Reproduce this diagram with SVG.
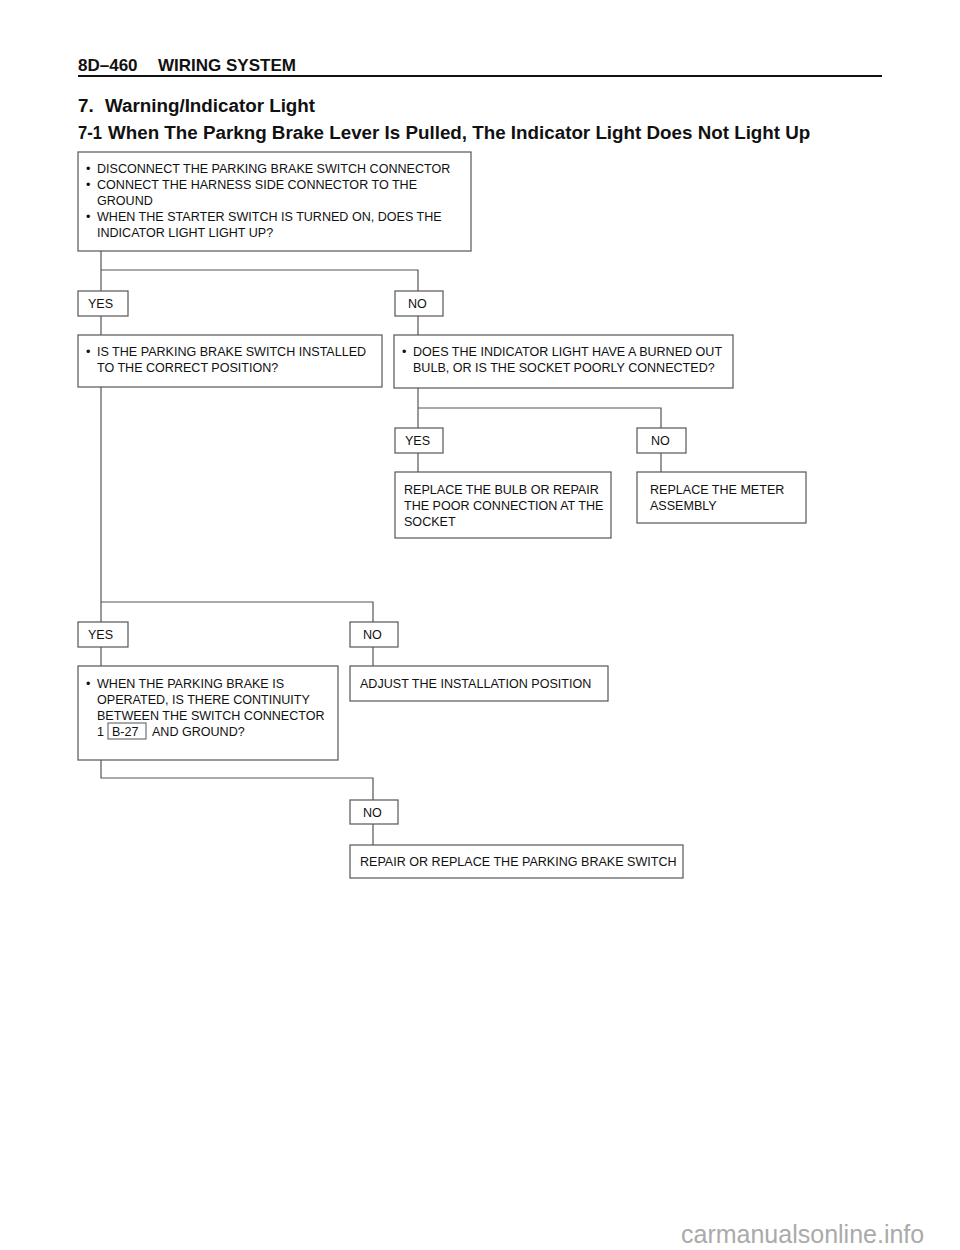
<svg xmlns="http://www.w3.org/2000/svg" width="960" height="1250" viewBox="0 0 960 1250">
<style>
.bg{fill:#fff}
.box{fill:#fff;stroke:#555;stroke-width:1.2}
.conn{fill:none;stroke:#555;stroke-width:1.2}
.t{font-family:"Liberation Sans",Arial,sans-serif;font-size:12.55px;fill:#111}
.h{font-family:"Liberation Sans",Arial,sans-serif;font-weight:bold;fill:#111}
.wm{font-family:"Liberation Sans",Arial,sans-serif;font-size:25px;fill:#aaa}
</style>
<rect class="bg" x="0" y="0" width="960" height="1250"/>
<g id="header">
<text class="h" x="78" y="71" font-size="17">8D–460</text>
<text class="h" x="158" y="71" font-size="17">WIRING SYSTEM</text>
<line x1="78" y1="76" x2="882" y2="76" stroke="#111" stroke-width="2"/>
<text class="h" x="78" y="112" font-size="18.8">7.</text>
<text class="h" x="105" y="112" font-size="18.8">Warning/Indicator Light</text>
<text class="h" x="78" y="139" font-size="18.8" textLength="24" lengthAdjust="spacingAndGlyphs">7-1</text>
<text class="h" x="108" y="139" font-size="18.8">When The Parkng Brake Lever Is Pulled, The Indicator Light Does Not Light Up</text>
</g>
<g id="connectors">
<polyline class="conn" points="101,251 101,291"/>
<polyline class="conn" points="101,270 418,270 418,291"/>
<polyline class="conn" points="101,316 101,335"/>
<polyline class="conn" points="418,316 418,335"/>
<polyline class="conn" points="418,388 418,428"/>
<polyline class="conn" points="418,408 661,408 661,428"/>
<polyline class="conn" points="418,453 418,472"/>
<polyline class="conn" points="661,453 661,472"/>
<polyline class="conn" points="101,387 101,622"/>
<polyline class="conn" points="101,602 373,602 373,622"/>
<polyline class="conn" points="101,647 101,666"/>
<polyline class="conn" points="373,647 373,666"/>
<polyline class="conn" points="101,760 101,778 373,778 373,800"/>
<polyline class="conn" points="373,824 373,845"/>
</g>
<g id="n1">
<rect class="box" x="78" y="152" width="393" height="99"/>
<text class="t" x="86" y="173">•</text><text class="t" x="97" y="173">DISCONNECT THE PARKING BRAKE SWITCH CONNECTOR</text>
<text class="t" x="86" y="189">•</text><text class="t" x="97" y="189">CONNECT THE HARNESS SIDE CONNECTOR TO THE</text>
<text class="t" x="97" y="205">GROUND</text>
<text class="t" x="86" y="221">•</text><text class="t" x="97" y="221">WHEN THE STARTER SWITCH IS TURNED ON, DOES THE</text>
<text class="t" x="97" y="237">INDICATOR LIGHT LIGHT UP?</text>
</g>
<g id="yes1"><rect class="box" x="78" y="291" width="50" height="25"/><text class="t" x="88" y="308">YES</text></g>
<g id="no1"><rect class="box" x="395" y="291" width="48" height="25"/><text class="t" x="408" y="308">NO</text></g>
<g id="n2">
<rect class="box" x="78" y="335" width="304" height="52"/>
<text class="t" x="86" y="356">•</text><text class="t" x="97" y="356">IS THE PARKING BRAKE SWITCH INSTALLED</text>
<text class="t" x="97" y="372">TO THE CORRECT POSITION?</text>
</g>
<g id="n3">
<rect class="box" x="394" y="335" width="339" height="53"/>
<text class="t" x="402" y="356">•</text><text class="t" x="413" y="356">DOES THE INDICATOR LIGHT HAVE A BURNED OUT</text>
<text class="t" x="413" y="372">BULB, OR IS THE SOCKET POORLY CONNECTED?</text>
</g>
<g id="yes2"><rect class="box" x="395" y="428" width="48" height="25"/><text class="t" x="405" y="445">YES</text></g>
<g id="no2"><rect class="box" x="637" y="428" width="49" height="25"/><text class="t" x="651" y="445">NO</text></g>
<g id="n4">
<rect class="box" x="395" y="472" width="216" height="66"/>
<text class="t" x="404" y="494">REPLACE THE BULB OR REPAIR</text>
<text class="t" x="404" y="510">THE POOR CONNECTION AT THE</text>
<text class="t" x="404" y="526">SOCKET</text>
</g>
<g id="n5">
<rect class="box" x="637" y="472" width="169" height="51"/>
<text class="t" x="650" y="494">REPLACE THE METER</text>
<text class="t" x="650" y="510">ASSEMBLY</text>
</g>
<g id="yes3"><rect class="box" x="78" y="622" width="50" height="25"/><text class="t" x="88" y="639">YES</text></g>
<g id="no3"><rect class="box" x="350" y="622" width="48" height="25"/><text class="t" x="363" y="639">NO</text></g>
<g id="n6">
<rect class="box" x="78" y="666" width="260" height="94"/>
<text class="t" x="86" y="688">•</text><text class="t" x="97" y="688">WHEN THE PARKING BRAKE IS</text>
<text class="t" x="97" y="704">OPERATED, IS THERE CONTINUITY</text>
<text class="t" x="97" y="720">BETWEEN THE SWITCH CONNECTOR</text>
<text class="t" x="97" y="736">1</text>
<rect x="108" y="723" width="38" height="16" fill="none" stroke="#555" stroke-width="1"/>
<text class="t" x="112" y="736">B-27</text>
<text class="t" x="152" y="736">AND GROUND?</text>
</g>
<g id="n7">
<rect class="box" x="350" y="666" width="258" height="35"/>
<text class="t" x="360" y="688">ADJUST THE INSTALLATION POSITION</text>
</g>
<g id="no4"><rect class="box" x="350" y="800" width="48" height="24"/><text class="t" x="363" y="817">NO</text></g>
<g id="n8">
<rect class="box" x="350" y="845" width="333" height="33"/>
<text class="t" x="360" y="866">REPAIR OR REPLACE THE PARKING BRAKE SWITCH</text>
</g>
<text class="wm" x="681" y="1243">carmanualsonline.info</text>
</svg>
